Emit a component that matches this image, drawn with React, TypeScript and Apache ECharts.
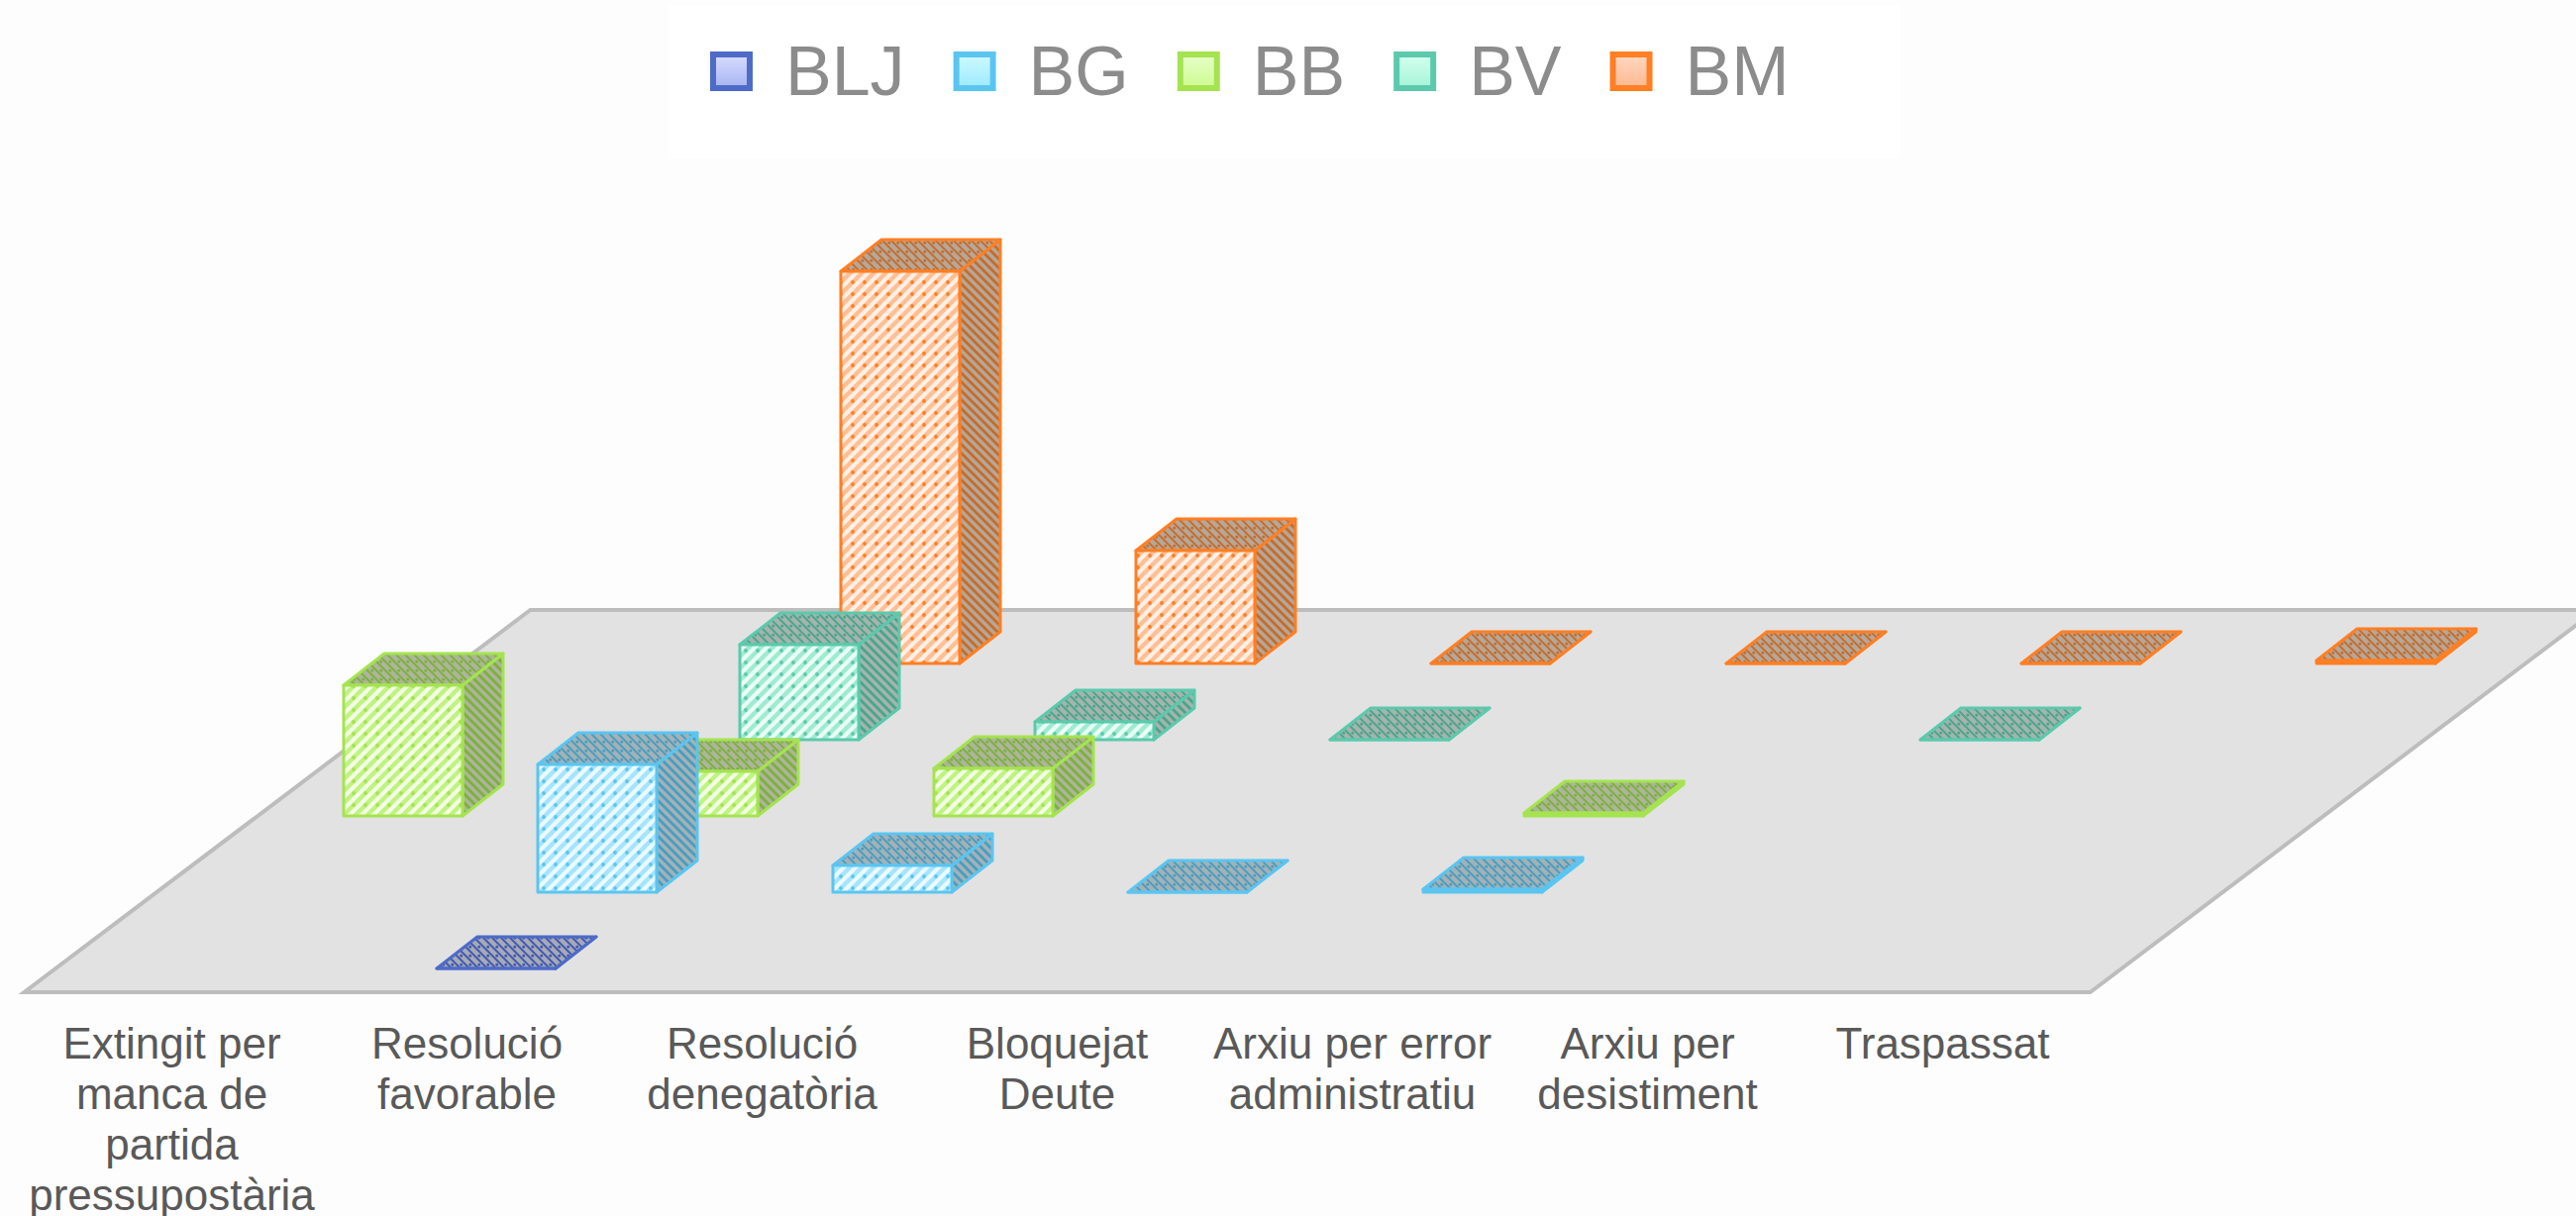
import React, { useEffect, useRef } from "react";
import * as echarts from "echarts";

const categories = [
  "Extingit per\nmanca de\npartida\npressupostària",
  "Resolució\nfavorable",
  "Resolució\ndenegatòria",
  "Bloquejat\nDeute",
  "Arxiu per error\nadministratiu",
  "Arxiu per\ndesistiment",
  "Traspassat",
];
const seriesNames = ["BLJ", "BG", "BB", "BV", "BM"];
const blj = [null, 0, null, null, null, null, null];
const bg = [null, 43, 9, 0, 1, null, null];
const bb = [44, 15, 16, null, 1, null, null];
const bv = [null, 32, 6, 0, null, 0, null];
const bm = [null, 132, 38, 0, 0, 0, 1];
const seriesValues = [blj, bg, bb, bv, bm];

const lineColors = ["#4E6BC8", "#5BC5F0", "#A5E350", "#5DC9AC", "#FE7F24"];
const darkColors = ["#4058AE", "#4A9DBE", "#7DB03E", "#4CA48C", "#C06E30"];
const shadeBases = ["#A6A9B8", "#A3B2B8", "#ADB59A", "#A3B5AD", "#B8A697"];
const tintBands = ["#BCC5F5", "#A6E4FF", "#BFF382", "#9FEBD2", "#FFBF95"];
const tintLights = ["#EDEFFF", "#EAFAFF", "#F3FFE4", "#EAFDF6", "#FFF0E6"];
const swatchTop = ["#D8DCFF", "#CFF9FF", "#E6FFC9", "#D6FFF0", "#FFD8C2"];
const swatchBottom = ["#A6B4F0", "#9BEAFF", "#CDFB90", "#A5F3D8", "#FFB890"];

const BAR_W = 120;
const BAR_DX = 41;
const BAR_DY = 32;
const START_X = 29.5;
const START_Y = 24;
const STEP_X = 102;
const STEP_Y = 77;
const FLOOR_DX = 511;
const FLOOR_DY = 386;

function tile(size: number, base: string, stripe: string, stripeW: number, up: boolean, dot?: string, dotR = 1.7) {
  const big = document.createElement("canvas");
  big.width = size * 3;
  big.height = size * 3;
  const x = big.getContext("2d")!;
  x.fillStyle = base;
  x.fillRect(0, 0, size * 3, size * 3);
  x.filter = "blur(0.7px)";
  x.strokeStyle = stripe;
  x.lineWidth = stripeW;
  for (let o = -3 * size; o <= 3 * size; o += size) {
    x.beginPath();
    if (up) {
      x.moveTo(o, size * 3);
      x.lineTo(o + size * 3, 0);
    } else {
      x.moveTo(o, 0);
      x.lineTo(o + size * 3, size * 3);
    }
    x.stroke();
  }
  if (dot) {
    x.fillStyle = dot;
    for (let i = 0; i < 3; i++) {
      for (let j = 0; j < 3; j++) {
        x.beginPath();
        x.arc(i * size + size * 0.75, j * size + (up ? size * 0.75 : size * 0.25), dotR, 0, Math.PI * 2);
        x.fill();
      }
    }
  }
  const c = document.createElement("canvas");
  c.width = size;
  c.height = size;
  c.getContext("2d")!.drawImage(big, size, size, size, size, 0, 0, size, size);
  return { image: c.toDataURL(), repeat: "repeat", imageWidth: size, imageHeight: size };
}

export default function App() {
  const ref = useRef<HTMLDivElement>(null);
  useEffect(() => {
    const chart = echarts.init(ref.current!, undefined, { renderer: "svg" });

    const faces = seriesNames.map((_, s) => ({
      front: tile(12, tintBands[s], tintLights[s], 4, true, lineColors[s], 1.9),
      side: tile(9, shadeBases[s], darkColors[s], 2.8, false),
      top: tile(9, shadeBases[s], darkColors[s], 1.8, false, darkColors[s], 1.4),
    }));

    const floorSeries = {
      type: "custom",
      name: "Base",
      silent: true,
      data: [[0, 0]],
      encode: { x: 0, y: 1 },
      renderItem: (_: any, api: any) => {
        const [cx, y] = api.coord([0, 0]);
        const band = api.size([1, 0])[0];
        const left = cx - band / 2;
        const right = left + band * categories.length;
        return {
          type: "polygon",
          shape: {
            points: [
              [left, y],
              [right, y],
              [right + FLOOR_DX, y - FLOOR_DY],
              [left + FLOOR_DX, y - FLOOR_DY],
            ],
          },
          style: { fill: "#E2E2E2", stroke: "#BDBDBD", lineWidth: 4, lineJoin: "miter" },
        };
      },
    };

    const barSeries = seriesNames
      .map((name, s) => ({
        type: "custom",
        name,
        silent: true,
        itemStyle: { color: lineColors[s] },
        encode: { x: 0, y: 1 },
        data: seriesValues[s].map((v, i) => (v === null ? null : [i, v])).filter(Boolean),
        renderItem: (_: any, api: any) => {
          const cat = api.value(0);
          const [cx, yBase] = api.coord([cat, 0]);
          const yTop = api.coord([cat, api.value(1)])[1];
          const x0 = cx - BAR_W / 2 + START_X + s * STEP_X;
          const x1 = x0 + BAR_W;
          const shift = START_Y + s * STEP_Y;
          const b = yBase - shift;
          const t = yTop - shift;
          const edge = { stroke: lineColors[s], lineWidth: 3, lineJoin: "round" };
          return {
            type: "group",
            children: [
              {
                type: "polygon",
                shape: { points: [[x1, b], [x1 + BAR_DX, b - BAR_DY], [x1 + BAR_DX, t - BAR_DY], [x1, t]] },
                style: { fill: faces[s].side, ...edge },
              },
              {
                type: "polygon",
                shape: { points: [[x0, t], [x1, t], [x1 + BAR_DX, t - BAR_DY], [x0 + BAR_DX, t - BAR_DY]] },
                style: { fill: faces[s].top, ...edge },
              },
              {
                type: "polygon",
                shape: { points: [[x0, b], [x1, b], [x1, t], [x0, t]] },
                style: { fill: faces[s].front, ...edge },
              },
            ],
          };
        },
      }))
      .reverse();

    chart.setOption({
      animation: false,
      backgroundColor: "#FDFDFD",
      legend: {
        left: 675,
        top: 5,
        padding: [32, 112, 53, 42],
        backgroundColor: "#FFFFFF",
        selectedMode: false,
        itemWidth: 37,
        itemHeight: 34,
        itemGap: 49,
        textStyle: { fontFamily: "Liberation Sans", fontSize: 70, color: "#8C8C8C", padding: [0, 0, 23, 31] },
        data: seriesNames.map((name, s) => ({
          name,
          icon: "rect",
          itemStyle: {
            color: {
              type: "linear",
              x: 0,
              y: 0,
              x2: 0,
              y2: 1,
              colorStops: [
                { offset: 0, color: swatchTop[s] },
                { offset: 1, color: swatchBottom[s] },
              ],
            },
            borderColor: lineColors[s],
            borderWidth: 6,
          },
        })),
      },
      grid: { left: 24.5, width: 2086, top: 0, height: 1002, containLabel: false, outerBoundsMode: "none" },
      xAxis: {
        type: "category",
        data: categories,
        axisLine: { show: false },
        axisTick: { show: false },
        splitLine: { show: false },
        axisLabel: {
          interval: 0,
          margin: 25.5,
          fontFamily: "Liberation Sans",
          fontSize: 44,
          lineHeight: 51,
          color: "#595959",
          hideOverlap: false,
        },
      },
      yAxis: { type: "value", min: 0, max: 334, show: false },
      series: [floorSeries, ...barSeries],
    });
    return () => chart.dispose();
  }, []);
  return <div ref={ref} style={{ position: "absolute", left: 0, top: 0, width: 2601, height: 1228 }} />;
}
